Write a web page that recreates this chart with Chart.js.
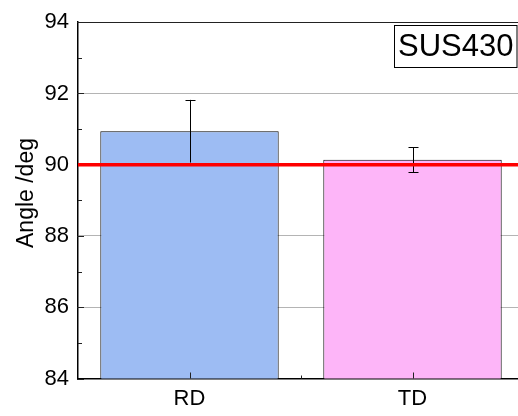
<!DOCTYPE html>
<html>
<head>
<meta charset="utf-8">
<script src="https://cdn.jsdelivr.net/npm/chart.js@4.4.1/dist/chart.umd.min.js"></script>
<style>
  html, body { margin: 0; padding: 0; background: #fff; overflow: hidden; }
  #wrap { position: relative; width: 530px; height: 416px; }
</style>
</head>
<body>
<div id="wrap"><canvas id="c"></canvas></div>
<script>
// Measured bend angle by direction for SUS430
const categories = ['RD', 'TD'];
const angleMean = [90.94, 90.14];
const angleErr = [0.88, 0.35];
const barColors = ['#9dbcf3', '#fdb5f8'];
const yTicks = [84, 86, 88, 90, 92, 94];
const referenceAngle = 90;
const sampleName = 'SUS430';

const FONT = '"Liberation Sans", Arial, sans-serif';

const overlay = {
  id: 'overlay',
  beforeDatasetsDraw(chart) {
    const { ctx, chartArea: a } = chart;
    ctx.save();
    // top frame line
    ctx.strokeStyle = '#222';
    ctx.lineWidth = 1;
    ctx.beginPath();
    ctx.moveTo(a.left, Math.round(a.top) + 0.5);
    ctx.lineTo(a.right, Math.round(a.top) + 0.5);
    ctx.stroke();
    ctx.restore();
  },
  afterDatasetsDraw(chart) {
    const { ctx, chartArea: a, scales: { x, y } } = chart;
    ctx.save();
    // error bars
    ctx.strokeStyle = '#000';
    ctx.lineWidth = 1;
    const meta = chart.getDatasetMeta(0);
    meta.data.forEach((bar, i) => {
      const cx = Math.round(bar.x) + 0.5;
      const yHi = y.getPixelForValue(angleMean[i] + angleErr[i]);
      const yLo = y.getPixelForValue(angleMean[i] - angleErr[i]);
      ctx.beginPath();
      ctx.moveTo(cx, yHi); ctx.lineTo(cx, yLo);
      ctx.moveTo(cx - 5, Math.round(yHi) + 0.5); ctx.lineTo(cx + 5, Math.round(yHi) + 0.5);
      ctx.moveTo(cx - 5, Math.round(yLo) + 0.5); ctx.lineTo(cx + 5, Math.round(yLo) + 0.5);
      ctx.stroke();
    });

    // reference line at 90 deg
    const yr = y.getPixelForValue(referenceAngle);
    ctx.strokeStyle = '#ff0000';
    ctx.lineWidth = 3.5;
    ctx.beginPath();
    ctx.moveTo(a.left, yr); ctx.lineTo(a.right, yr);
    ctx.stroke();

    // y ticks (inside): minor at odd values, major at labelled values
    ctx.strokeStyle = '#222';
    ctx.lineWidth = 1;
    for (let v = 85; v < 94; v += 2) {
      const py = Math.round(y.getPixelForValue(v)) + 0.5;
      ctx.beginPath();
      ctx.moveTo(a.left, py); ctx.lineTo(a.left + 4, py);
      ctx.stroke();
    }
    yTicks.forEach(v => {
      if (v === referenceAngle) return;
      const py = Math.round(y.getPixelForValue(v)) + 0.5;
      ctx.beginPath();
      ctx.moveTo(a.left - 1, py); ctx.lineTo(a.left + 6, py);
      ctx.stroke();
    });
    // x ticks: category centres and boundary
    categories.forEach((c, i) => {
      const px = Math.round(x.getPixelForValue(i)) + 0.5;
      ctx.beginPath();
      ctx.moveTo(px, a.bottom); ctx.lineTo(px, a.bottom - 6);
      ctx.stroke();
    });
    const bx = Math.round(x.getPixelForValue(0.5)) + 0.5;
    ctx.beginPath();
    ctx.moveTo(bx, a.bottom); ctx.lineTo(bx, a.bottom - 3);
    ctx.stroke();

    // y axis title
    ctx.fillStyle = '#000';
    ctx.font = '23px ' + FONT;
    ctx.textAlign = 'center';
    ctx.textBaseline = 'alphabetic';
    ctx.translate(33, 193);
    ctx.rotate(-Math.PI / 2);
    ctx.fillText('Angle /deg', 0, 0);
    ctx.restore();

    // sample label box
    ctx.save();
    ctx.font = '31px ' + FONT;
    const boxL = 394.5, boxT = 25.5, boxW = 122.5, boxH = 42;
    ctx.fillStyle = '#fff';
    ctx.fillRect(boxL, boxT, boxW, boxH);
    ctx.strokeStyle = '#000';
    ctx.lineWidth = 1;
    ctx.strokeRect(boxL, boxT, boxW, boxH);
    ctx.fillStyle = '#000';
    ctx.textAlign = 'center';
    ctx.textBaseline = 'middle';
    ctx.fillText(sampleName, boxL + boxW / 2, boxT + boxH / 2 + 1);
    ctx.restore();
  }
};

new Chart(document.getElementById('c'), {
  type: 'bar',
  data: {
    labels: categories,
    datasets: [{
      data: angleMean,
      backgroundColor: barColors,
      borderColor: '#000',
      borderWidth: 1,
      borderSkipped: false,
      barPercentage: 0.8,
      categoryPercentage: 1.0
    }]
  },
  options: {
    responsive: true,
    maintainAspectRatio: false,
    animation: false,
    devicePixelRatio: 1,
    layout: { padding: { top: 18, right: 6, left: 0, bottom: 0 } },
    plugins: { legend: { display: false }, tooltip: { enabled: false } },
    scales: {
      x: {
        grid: { display: false, drawTicks: false },
        border: { display: true, color: '#000', width: 1.5 },
        ticks: { color: '#000', font: { family: FONT, size: 22 }, padding: 7 },
        afterFit(s) { s.height = 37.5; }
      },
      y: {
        min: 84, max: 94,
        afterBuildTicks(s) { s.ticks = yTicks.map(v => ({ value: v })); },
        grid: {
          drawTicks: false,
          color: ctx => (ctx.tick && (ctx.tick.value === 84 || ctx.tick.value === 94)) ? 'rgba(0,0,0,0)' : '#b4b4b4',
          lineWidth: 1
        },
        border: { display: true, color: '#000', width: 1.5 },
        ticks: { color: '#000', font: { family: FONT, size: 22 }, padding: 9 },
        afterFit(s) { s.width = 78; }
      }
    }
  },
  plugins: [overlay]
});
</script>
</body>
</html>
